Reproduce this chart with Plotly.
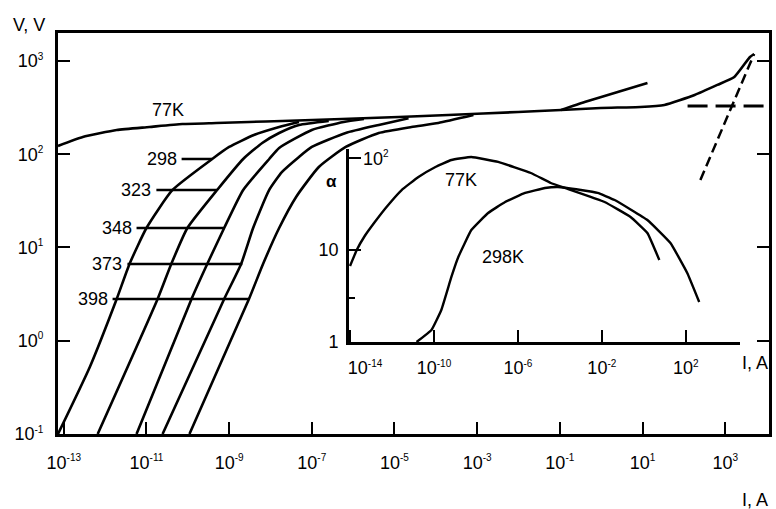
import numpy as np
import plotly.graph_objects as go

# ---------------- data (log10 values) ----------------
# Main chart: log10(I, A) vs log10(V, V)
logI_77K = [-13.14, -12.54, -11.72, -10.93, -10.13, -9.31, -8.52, -7.72, -6.27, -4.90,
            -3.70, -2.01, -0.97, -0.01, 0.95, 1.53, 2.26, 2.81, 3.22, 3.60, 3.70]
logV_77K = [2.089, 2.185, 2.260, 2.292, 2.324, 2.335, 2.346, 2.357, 2.378, 2.400,
            2.421, 2.453, 2.475, 2.496, 2.507, 2.528, 2.635, 2.743, 2.828, 3.043, 3.075]

logI_77K_up = [-0.97, -0.40, 0.40, 1.12]
logV_77K_up = [2.475, 2.560, 2.668, 2.764]

logI_dash_h = [2.09, 4.06]
logV_dash_h = [2.517, 2.517]
logI_dash_s = [2.40, 3.70]
logV_dash_s = [1.724, 3.075]

logI_298 = [-13.14, -12.37, -11.72, -11.41, -11.00, -10.37, -9.41, -9.00, -8.40, -7.79, -7.31]
logV_298 = [-1.0, -0.281, 0.448, 0.823, 1.209, 1.617, 1.949, 2.078, 2.206, 2.292, 2.346]

logI_323 = [-12.18, -10.73, -10.40, -10.01, -9.29, -8.66, -8.20, -7.79, -7.31, -6.59]
logV_323 = [-1.0, 0.448, 0.823, 1.209, 1.617, 1.949, 2.121, 2.228, 2.314, 2.357]

logI_348 = [-11.24, -9.91, -9.53, -9.12, -8.66, -8.03, -7.79, -7.00, -6.23, -5.74]
logV_348 = [-1.0, 0.448, 0.823, 1.209, 1.617, 1.949, 2.067, 2.260, 2.346, 2.378]

logI_373 = [-10.61, -9.12, -8.71, -8.42, -8.03, -7.72, -7.31, -7.00, -6.18, -5.38, -4.66]
logV_373 = [-1.0, 0.448, 0.823, 1.209, 1.617, 1.810, 1.971, 2.078, 2.228, 2.314, 2.385]

logI_398 = [-9.96, -8.52, -8.18, -7.79, -7.38, -6.83, -6.18, -5.38, -4.59, -3.94, -3.09]
logV_398 = [-1.0, 0.448, 0.823, 1.209, 1.542, 1.863, 2.078, 2.228, 2.292, 2.335, 2.420]

# temperature marker lines
temp_labels = ["298", "323", "348", "373", "398"]
temp_logV = [1.949, 1.617, 1.209, 0.823, 0.448]
temp_logI_start = [-10.15, -10.76, -11.24, -11.46, -11.82]
temp_logI_end = [-9.41, -9.29, -9.12, -8.68, -8.52]

main_x_exp = [-13, -11, -9, -7, -5, -3, -1, 1, 3]
main_y_exp = [-1, 0, 1, 2, 3]

# Inset: log10(I, A) vs log10(alpha)
in_logI_77K = [-14.0, -13.68, -13.30, -12.82, -12.30, -11.54, -10.74, -9.93, -9.17, -8.22,
               -6.94, -5.38, -4.43, -3.76, -1.87, -0.63, 0.17, 0.74]
in_logA_77K = [0.826, 1.000, 1.152, 1.304, 1.457, 1.652, 1.793, 1.902, 1.978, 2.011,
               1.957, 1.837, 1.728, 1.674, 1.522, 1.359, 1.185, 0.891]

in_logI_298 = [-10.83, -10.12, -9.65, -9.17, -8.84, -8.22, -7.42, -6.61, -5.66, -4.71,
               -4.09, -3.00, -2.20, -1.39, 0.17, 1.27, 2.07, 2.64]
in_logA_298 = [0.0, 0.130, 0.348, 0.707, 0.924, 1.217, 1.402, 1.522, 1.620, 1.674,
               1.685, 1.652, 1.620, 1.543, 1.326, 1.076, 0.750, 0.435]

inset_x_exp = [-14, -10, -6, -2, 2]
inset_y_vals = [1, 10, 100]
inset_y_text = ["1", "10", " "]

# ---------------- figure ----------------
FONT = "Liberation Sans, Arial, sans-serif"
W, H = 776, 509
ML, MR, MT, MB = 58, 4, 33, 75
PW, PH = W - ML - MR, H - MT - MB


def px(x):
    return (x - ML) / PW


def py(y):
    return (H - MB - y) / PH


def sup(e):
    return "10<sup><span style='font-size:10px'>%s</span></sup>" % e


fig = go.Figure()


def add_line(lx, ly, xa="x", ya="y", dash="solid", width=2.6, shape="spline", smoothing=0.5):
    fig.add_trace(go.Scatter(
        x=10.0 ** np.array(lx), y=10.0 ** np.array(ly), mode="lines",
        line=dict(color="black", width=width, dash=dash, shape=shape, smoothing=smoothing),
        xaxis=xa, yaxis=ya, showlegend=False, hoverinfo="skip"))


add_line(logI_77K, logV_77K)
add_line(logI_77K_up, logV_77K_up)
for lx, ly in [(logI_298, logV_298), (logI_323, logV_323), (logI_348, logV_348),
               (logI_373, logV_373), (logI_398, logV_398)]:
    add_line(lx, ly)
add_line(logI_dash_h, logV_dash_h, dash="20px,8px", width=2.8, shape="linear")
add_line(logI_dash_s, logV_dash_s, dash="10px,5px", width=2.5, shape="linear")
for s, e, v in zip(temp_logI_start, temp_logI_end, temp_logV):
    add_line([s, e], [v, v], width=2.5, shape="linear")

add_line(in_logI_77K, in_logA_77K, xa="x2", ya="y2", width=2.4, smoothing=0.3)
add_line(in_logI_298, in_logA_298, xa="x2", ya="y2", width=2.4, smoothing=0.3)

annotations = []
for lab, s, v in zip(temp_labels, temp_logI_start, temp_logV):
    annotations.append(dict(x=s, y=v, xref="x", yref="y", text=lab, showarrow=False,
                            xanchor="right", yanchor="middle", xshift=-3,
                            font=dict(size=18, family=FONT, color="black")))


def ann(text, x, y, size=18, xanchor="center"):
    annotations.append(dict(x=px(x), y=py(y), xref="paper", yref="paper", text=text,
                            showarrow=False, xanchor=xanchor, yanchor="middle",
                            font=dict(size=size, family=FONT, color="black")))


ann("V, V", 29, 25)
ann("I, A", 758, 500)
ann("77K", 168, 110)
ann("77K", 463, 180)
ann("298K", 505, 257)
ann("<b>α</b>", 333, 181, size=17)
ann("I, A", 758, 363)
ann("10<sup><span style='font-size:10px'>2</span></sup>", 377, 158)

axis_common = dict(type="log", showgrid=False, zeroline=False, showline=True,
                   linecolor="black", tickcolor="black", ticks="inside",
                   tickfont=dict(size=18, family=FONT, color="black"))

fig.update_layout(
    width=W, height=H,
    margin=dict(l=ML, r=MR, t=MT, b=MB, pad=0),
    paper_bgcolor="white", plot_bgcolor="rgba(0,0,0,0)",
    font=dict(family=FONT, size=18, color="black"),
    showlegend=False,
    annotations=annotations,
    xaxis=dict(axis_common, range=[-13.14, 4.06], domain=[0, 1], linewidth=3, mirror=True,
               ticklen=12, tickwidth=2,
               tickvals=[10.0 ** e for e in main_x_exp],
               ticktext=[sup(e) for e in main_x_exp], ticklabelstandoff=10),
    yaxis=dict(axis_common, range=[-1, 3.30], domain=[0, 1], linewidth=3, mirror="ticks",
               ticklen=12, tickwidth=2,
               tickvals=[10.0 ** e for e in main_y_exp],
               ticktext=[sup(e) for e in main_y_exp], ticklabelstandoff=8),
    xaxis2=dict(axis_common, range=[-14.06, 4.59], domain=[px(350), px(743)],
                anchor="y2", linewidth=2.5, ticklen=12, tickwidth=2,
                tickvals=[10.0 ** e for e in inset_x_exp],
                ticktext=["&nbsp;" * 6 + sup(inset_x_exp[0])] + [sup(e) for e in inset_x_exp[1:]],
                ticklabelstandoff=8),
    yaxis2=dict(axis_common, range=[0, (342 - 149) / 92], domain=[py(342), py(149)],
                anchor="x2", linewidth=2.5, ticklen=12, tickwidth=2,
                tickvals=inset_y_vals, ticktext=inset_y_text, ticklabelstandoff=4,
                minor=dict(tickvals=[3], ticks="inside", ticklen=6, tickwidth=2,
                           tickcolor="black", showgrid=False)),
)

fig.write_html("out.html")
